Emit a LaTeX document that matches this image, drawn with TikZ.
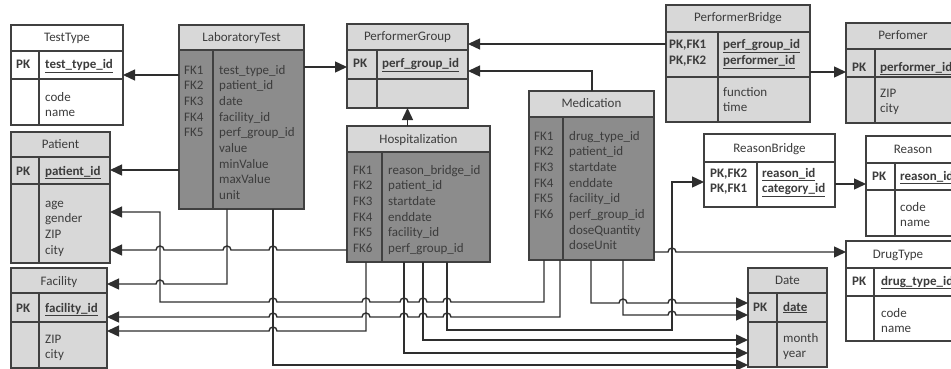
\documentclass[tikz,border=0pt]{standalone}
\usepackage{fontspec}
\setmainfont{Carlito}
\usetikzlibrary{arrows.meta,fit}
\definecolor{lite}{HTML}{D8D8D8}
\definecolor{dark}{HTML}{8C8C8C}
\definecolor{edge}{HTML}{404040}
\definecolor{wire}{HTML}{2E2E2E}
\definecolor{ink}{HTML}{3C3C3C}

% key field: bold and underlined
\newcommand\keyf[1]{\underline{\textbf{#1}}}

% table with title, key rows and attribute rows
% #1 name, #2 x1, #3 y1, #4 x2, #5 y2, #6 title bottom, #7 key bottom, #8 column divider, #9 fill
\newcommand\keytable[9]{%
  \node[tbl, fill=#9, fit={(#2,#3) (#4,#5)}] (#1) {};
  \draw[sep] (#2,#6) -- (#4,#6) (#2,#7) -- (#4,#7) (#8,#6) -- (#8,#5);
}
% fact table: light title band over a dark body
% #1 name, #2 x1, #3 y1, #4 x2, #5 y2, #6 title bottom, #7 column divider
\newcommand\facttable[7]{%
  \fill[lite] (#2,#3) rectangle (#4,#6);
  \fill[dark] (#2,#6) rectangle (#4,#5);
  \node[tbl, fit={(#2,#3) (#4,#5)}] (#1) {};
  \draw[sep] (#2,#6) -- (#4,#6) (#7,#6) -- (#7,#5);
}

\begin{document}
\begin{tikzpicture}[x=1pt,y=-1pt,
  tbl/.style={draw=edge, line width=1.2pt, inner sep=0pt, outer sep=0pt},
  sep/.style={draw=edge, line width=1.2pt},
  fk/.style={draw=wire, line width=1.4pt, -{Triangle[length=12pt,width=11pt]}},
  % multi-line labels are placed by the baseline of their last line
  lbl/.style={inner sep=0pt, anchor=base west, align=left, text=ink,
              font=\fontsize{13}{15.7}\selectfont},
  ttl/.style={inner sep=0pt, anchor=base, text=ink,
              font=\fontsize{13}{15.7}\selectfont}]
\useasboundingbox (0,0) rectangle (951,369);
\clip (0,0) rectangle (951,369);

% ---------------- tables ----------------
\keytable{tt}{11}{25}{123}{125}{51}{79}{39}{white}
\keytable{pat}{11}{132}{110}{263}{157}{184}{39}{lite}
\keytable{fac}{11}{268}{107}{368}{293}{322}{39}{lite}
\keytable{pg}{347}{24}{468}{108}{50}{79}{377}{lite}
\keytable{pb}{666}{5}{810}{122}{32}{77}{718}{lite}
\keytable{pf}{846}{23}{962}{123}{49}{77}{875}{lite}
\keytable{rb}{704}{134}{835}{207}{162}{207}{757}{white}
\keytable{rs}{866}{136}{962}{236}{163}{190}{895}{white}
\keytable{dt}{846}{241}{955}{341}{268}{296}{874}{white}
\keytable{date}{748}{268}{827}{367}{293}{322}{777}{lite}
\facttable{lab}{179}{25}{304}{209}{50}{213}
\facttable{hosp}{347}{126}{490}{262}{152}{382}
\facttable{med}{529}{91}{654}{260}{117}{563}

% ---------------- texts ----------------
\node[ttl] at (67,42) {TestType};
\node[lbl] at (16,69) {\textbf{PK}};
\node[lbl] at (45,69) {\keyf{test\_type\_id}};
\node[lbl] at (45,116.7) {code\\name};

\node[ttl] at (241.5,41.5) {LaboratoryTest};
\node[lbl] at (184,136.8) {FK1\\FK2\\FK3\\FK4\\FK5};
\node[lbl] at (219,199.6) {test\_type\_id\\patient\_id\\date\\facility\_id\\perf\_group\_id\\value\\minValue\\maxValue\\unit};

\node[ttl] at (60.5,148) {Patient};
\node[lbl] at (16,175) {\textbf{PK}};
\node[lbl] at (45,175) {\keyf{patient\_id}};
\node[lbl] at (45,254.1) {age\\gender\\ZIP\\city};

\node[ttl] at (59,285) {Facility};
\node[lbl] at (16,312) {\textbf{PK}};
\node[lbl] at (45,312) {\keyf{facility\_id}};
\node[lbl] at (45,358.7) {ZIP\\city};

\node[ttl] at (407.5,41) {PerformerGroup};
\node[lbl] at (353,68) {\textbf{PK}};
\node[lbl] at (382,68) {\keyf{perf\_group\_id}};

\node[ttl] at (418.5,143) {Hospitalization};
\node[lbl] at (353,252.5) {FK1\\FK2\\FK3\\FK4\\FK5\\FK6};
\node[lbl] at (388,252.5) {reason\_bridge\_id\\patient\_id\\startdate\\enddate\\facility\_id\\perf\_group\_id};

\node[ttl] at (591.5,107.5) {Medication};
\node[lbl] at (534,218.5) {FK1\\FK2\\FK3\\FK4\\FK5\\FK6};
\node[lbl] at (569,249.9) {drug\_type\_id\\patient\_id\\startdate\\enddate\\facility\_id\\perf\_group\_id\\doseQuantity\\doseUnit};

\node[ttl] at (738,22) {PerformerBridge};
\node[lbl] at (669,64.7) {\textbf{PK,FK1}\\\textbf{PK,FK2}};
\node[lbl] at (723,64.7) {\keyf{perf\_group\_id}\\\keyf{performer\_id}};
\node[lbl] at (723,111.7) {function\\time};

\node[ttl] at (903,40) {Perfomer};
\node[lbl] at (852,71) {\textbf{PK}};
\node[lbl] at (880,71) {\keyf{performer\_id}};
\node[lbl] at (880,112.7) {ZIP\\city};

\node[ttl] at (769.5,152) {ReasonBridge};
\node[lbl] at (710,192.7) {\textbf{PK,FK2}\\\textbf{PK,FK1}};
\node[lbl] at (762,192.7) {\keyf{reason\_id}\\\keyf{category\_id}};

\node[ttl] at (913,153) {Reason};
\node[lbl] at (872,180) {\textbf{PK}};
\node[lbl] at (900,180) {\keyf{reason\_id}};
\node[lbl] at (900,226.7) {code\\name};

\node[ttl] at (898,258) {DrugType};
\node[lbl] at (852,285) {\textbf{PK}};
\node[lbl] at (881,285) {\keyf{drug\_type\_id}};
\node[lbl] at (881,332.7) {code\\name};

\node[ttl] at (787.5,284) {Date};
\node[lbl] at (753,311) {\textbf{PK}};
\node[lbl] at (783,311) {\keyf{date}};
\node[lbl] at (783,357.7) {month\\year};

% ---------------- connectors ----------------
\draw[fk] (lab.west |- 0,75) -- (tt.east |- 0,75);
\draw[fk] (lab.west |- 0,170) -- (pat.east |- 0,170);
\draw[fk] (lab.east |- 0,67) -- (pg.west |- 0,67);
\draw[fk] (hosp.north -| pg.south) -- (pg.south);
\draw[fk] (med.north -| 592,0) |- (pg.east |- 0,71);
\draw[fk] (pb.west |- 0,44) -- (pg.east |- 0,44);
\draw[fk] (pb.east |- 0,72) -- (pf.west |- 0,72);
\draw[fk] (rb.east |- 0,184) -- (rs.west |- 0,184);
\draw[fk] (med.east |- 0,252) -- (668,252) arc (180:0:4pt) -- (dt.west |- 0,252);
\draw[fk] (hosp.south -| 447,0) |- (672,330) -- (672,182) -- (rb.west |- 0,182);
\draw[fk] (hosp.west |- 0,250) -- (277,250) arc (0:180:4pt) -- (231,250) arc (0:180:4pt)
  -- (164,250) arc (0:180:4pt) -- (pat.east |- 0,250);
\draw[fk] (lab.south -| 227,0) |- (164,284) arc (0:180:4pt) -- (fac.east |- 0,284);
\draw[fk] (med.south -| 544,0) |- (451,302) arc (0:180:4pt) -- (427,302) arc (0:180:4pt)
  -- (408,302) arc (0:180:4pt) -- (370,302) arc (0:180:4pt)
  -- (277,302) arc (0:180:4pt) -- (160,302) |- (pat.east |- 0,212);
\draw[fk] (med.south -| 560,0) |- (451,317) arc (0:180:4pt) -- (427,317) arc (0:180:4pt)
  -- (408,317) arc (0:180:4pt) -- (370,317) arc (0:180:4pt)
  -- (277,317) arc (0:180:4pt) -- (fac.east |- 0,317);
\draw[fk] (hosp.south -| 366,0) |- (277,331) arc (0:180:4pt) -- (fac.east |- 0,331);
\draw[fk] (hosp.south -| 423,0) |- (date.west |- 0,340);
\draw[fk] (hosp.south -| 404,0) |- (date.west |- 0,353);
\draw[fk] (lab.south -| 273,0) |- (date.west |- 0,365);
\draw[fk] (med.south -| 591,0) |- (619,303) arc (180:0:4pt) -- (668,303) arc (180:0:4pt)
  -- (date.west |- 0,303);
\draw[fk] (med.south -| 623,0) |- (668,315) arc (180:0:4pt) -- (date.west |- 0,315);
\end{tikzpicture}
\end{document}
